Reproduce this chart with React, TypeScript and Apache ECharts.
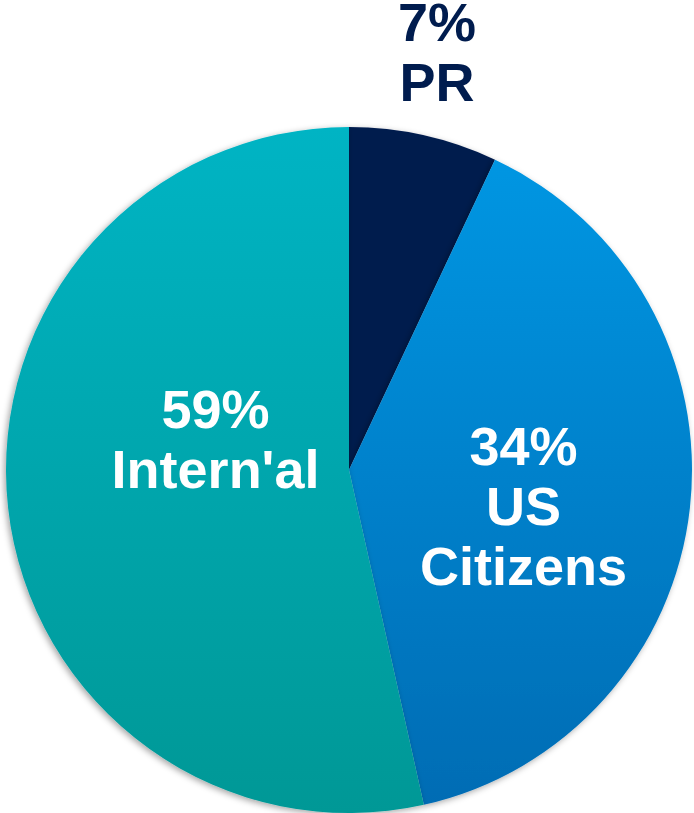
import React, { useEffect, useRef } from "react";
import * as echarts from "echarts";

const categories = ["PR", "US\nCitizens", "Intern'al"];
const values = [7, 39.5, 53.5];
const percentLabels = ["7%", "34%", "59%"];

export default function App() {
  const ref = useRef<HTMLDivElement>(null);
  useEffect(() => {
    const chart = echarts.init(ref.current!, null, { renderer: "svg" });
    const grad = (a: string, b: string) =>
      new echarts.graphic.LinearGradient(0, 0, 0, 1, [
        { offset: 0, color: a },
        { offset: 1, color: b },
      ]);
    const colors = [
      "#001c4e",
      grad("#0096e2", "#006cb4"),
      grad("#00b4c4", "#009896"),
    ];
    const offsets = [
      [50, -248],
      [1, 17],
      [40, -50],
    ];
    const labelColors = ["#001c4e", "#ffffff", "#ffffff"];
    chart.setOption({
      animation: false,
      series: [
        {
          type: "pie",
          center: [349, 470],
          radius: 343,
          startAngle: 90,
          clockwise: true,
          silent: true,
          itemStyle: {
            borderWidth: 0,
            shadowBlur: 6,
            shadowColor: "rgba(0,0,0,0.35)",
            shadowOffsetX: -2,
            shadowOffsetY: 2,
          },
          label: {
            position: "inside",
            fontFamily: "Liberation Sans, Arial, sans-serif",
            fontWeight: "bold",
            fontSize: 54,
            lineHeight: 60,
            align: "center",
          },
          labelLine: { show: false },
          data: categories.map((c, i) => ({
            name: c,
            value: values[i],
            itemStyle: { color: colors[i] },
            label: {
              formatter: percentLabels[i] + "\n" + c,
              offset: offsets[i],
              color: labelColors[i],
            },
          })),
        },
      ],
    });
    return () => chart.dispose();
  }, []);
  return (
    <div
      ref={ref}
      style={{ position: "fixed", left: 0, top: 0, width: 694, height: 813, background: "#fff" }}
    />
  );
}
